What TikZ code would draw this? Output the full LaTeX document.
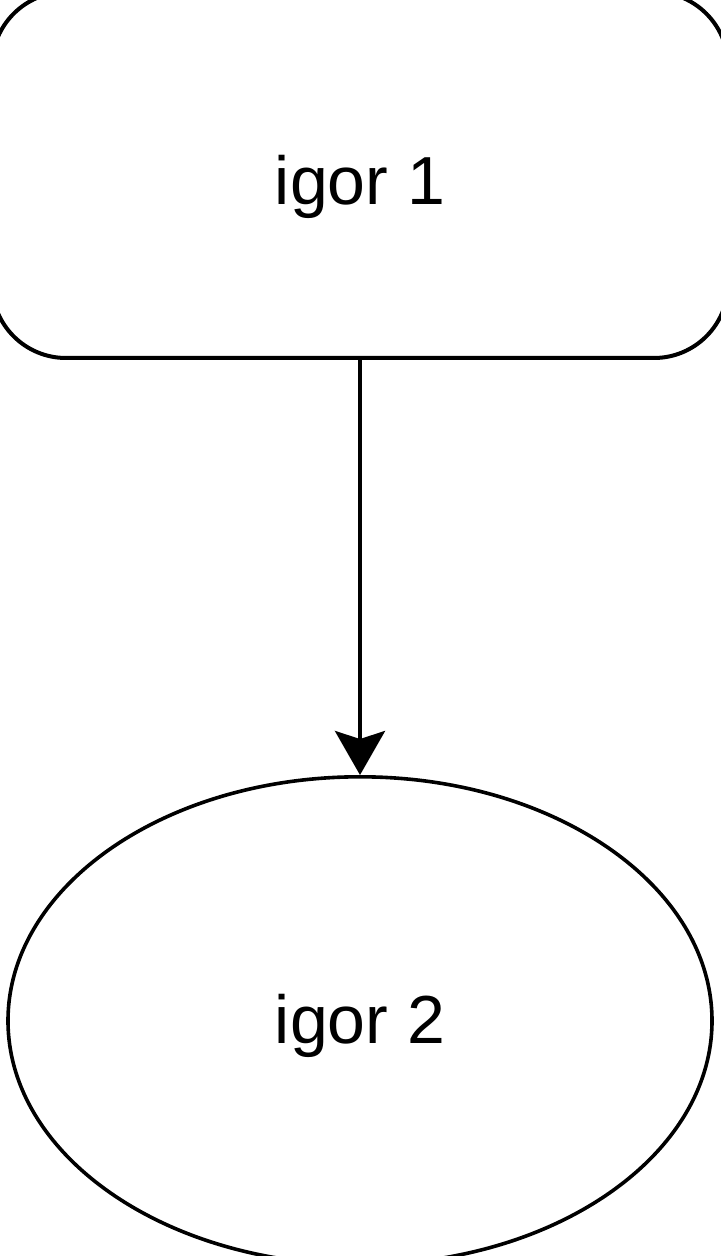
\documentclass[tikz,border=0pt]{standalone}
\usepackage{fontspec}
\setmainfont{Liberation Sans}
\usetikzlibrary{shapes.geometric, arrows.meta, positioning}
\tikzstyle{task} = [rectangle, rounded corners=37pt, draw, line width=2pt, minimum width=368pt, minimum height=183pt, text height=30pt, text depth=0pt, text centered, font=\fontsize{34}{40}\selectfont]
\tikzstyle{state} = [ellipse, draw, line width=1.8pt, minimum width=352pt, minimum height=244pt, text height=23pt, text depth=0pt, text centered, font=\fontsize{34}{40}\selectfont]
\tikzstyle{link} = [line width=2pt, -{Stealth[length=22pt, width=25pt, inset=4pt]}]

\begin{document}
\begin{tikzpicture}[x=0.5pt, y=-0.5pt, node distance=207.5pt]
  \useasboundingbox (0,0) rectangle (720,1256);
  \node (igor1) [task] at (360,175) {igor 1};
  \node (igor2) [state, below= of igor1] {igor 2};
  \draw [link] (igor1) -- (igor2);
\end{tikzpicture}
\end{document}
